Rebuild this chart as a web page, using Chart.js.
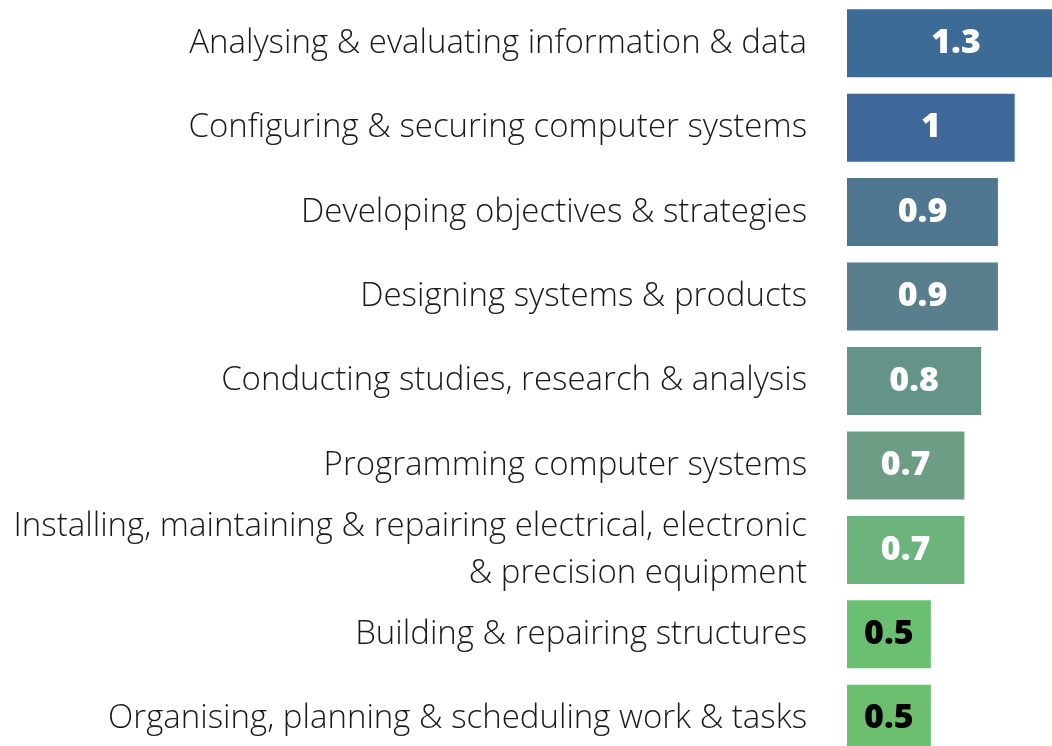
<!DOCTYPE html>
<html>
<head>
<meta charset="utf-8">
<script src="https://cdn.jsdelivr.net/npm/chart.js@4"></script>
<style>
  html, body { margin: 0; padding: 0; background: #fff; overflow: hidden; }
  #wrap { width: 1052px; height: 746px; overflow: hidden; }
</style>
</head>
<body>
<div id="wrap"><canvas id="myChart" width="1065" height="761"></canvas></div>
<script>
// skills and their values, top to bottom
const skills = [
    "Analysing & evaluating information & data",
    "Configuring & securing computer systems",
    "Developing objectives & strategies",
    "Designing systems & products",
    "Conducting studies, research & analysis",
    "Programming computer systems",
    ["Installing, maintaining & repairing electrical, electronic", "& precision equipment"],
    "Building & repairing structures",
    "Organising, planning & scheduling work & tasks"
];
const values = [1.3, 1, 0.9, 0.9, 0.8, 0.7, 0.7, 0.5, 0.5];
const barColours = ['#3b6b96', '#3d6899', '#4f778f', '#5a7f8c', '#649388', '#6d9e85', '#6cb37c', '#6bbf71', '#6bbf6f'];
const labelColours = ['#fff', '#fff', '#fff', '#fff', '#fff', '#fff', '#fff', '#000', '#000'];

// draw the value in the middle of each bar
const valueLabels = {
    id: 'valueLabels',
    afterDatasetsDraw(chart) {
        const ctx = chart.ctx;
        const meta = chart.getDatasetMeta(0);
        ctx.save();
        ctx.font = '800 34px "Open Sans"';
        ctx.textAlign = 'center';
        ctx.textBaseline = 'middle';
        meta.data.forEach((bar, i) => {
            ctx.fillStyle = labelColours[i];
            ctx.fillText(String(values[i]), (bar.x + bar.base) / 2, bar.y);
        });
        ctx.restore();
    }
};

const ctx = document.getElementById('myChart').getContext('2d');
const myChart = new Chart(ctx, {
    type: 'bar',
    data: {
        labels: skills,
        datasets: [{
            data: values,
            backgroundColor: barColours,
            borderWidth: 0,
            barPercentage: 0.805,
            categoryPercentage: 1
        }]
    },
    options: {
        indexAxis: 'y',
        responsive: false,
        animation: false,
        layout: { padding: { top: 1, bottom: 0, left: 0, right: 0 } },
        plugins: {
            legend: { display: false },
            tooltip: { enabled: false }
        },
        scales: {
            x: {
                display: false,
                min: 0,
                max: 1.3
            },
            y: {
                grid: { display: false },
                border: { display: false },
                ticks: {
                    autoSkip: false,
                    color: '#1a1a1a',
                    padding: 32,
                    font: { family: '"Open Sans"', size: 33, weight: 300, lineHeight: 1.43 }
                },
                afterFit(scale) {
                    scale.width = 847;
                    scale.paddingTop = 0;
                    scale.paddingBottom = 0;
                }
            }
        }
    },
    plugins: [valueLabels]
});
</script>
</body>
</html>
